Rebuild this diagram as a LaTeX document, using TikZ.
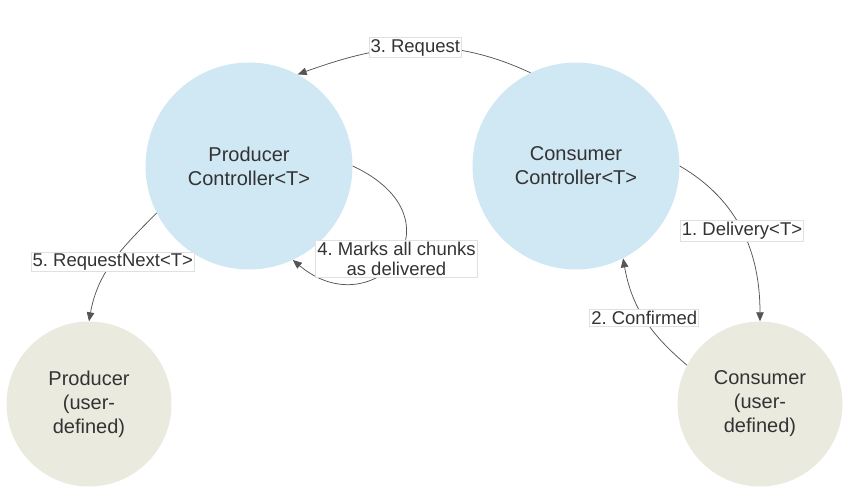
\documentclass[tikz,border=0pt]{standalone}
\usepackage{fontspec}
\setmainfont{Liberation Sans}
\usetikzlibrary{arrows.meta}
\definecolor{ctrlblue}{HTML}{D0E7F4}
\definecolor{userbeige}{HTML}{EAEADF}
\definecolor{txtgray}{HTML}{333333}
\definecolor{linegray}{HTML}{555555}
\frenchspacing

\begin{document}
\begin{tikzpicture}[x=1pt, y=1pt,
        ctrl/.style={circle, fill=ctrlblue, minimum size=207pt, inner sep=0pt,
            align=center, text=txtgray, font=\fontsize{20}{24}\selectfont},
        user/.style={circle, fill=userbeige, minimum size=165pt, inner sep=0pt,
            align=center, text=txtgray, font=\fontsize{20}{24}\selectfont},
        lbl/.style={fill=white, draw=black!12, inner sep=1.5pt, text=txtgray,
            align=center, font=\fontsize{18.5}{20}\selectfont},
        flow/.style={draw=linegray, line width=0.75pt,
            -{Triangle[length=9pt, width=7.5pt]}}]
    \useasboundingbox (0, 0) rectangle (853, 499);

    \node[ctrl] (prodctl) at (249, 333) {Producer\\Controller<T>};
    \node[ctrl] (consctl) at (576, 333) {Consumer\\Controller<T>};
    \node[user] (prod)    at (89, 95)   {Producer\\(user-\\defined)};
    \node[user] (cons)    at (760, 95)  {Consumer\\(user-\\defined)};

    \draw[flow] (consctl.0) to[out=-30, in=90] node[lbl] {1. Delivery<T>} (cons.north);
    \draw[flow] (cons.152) to[out=140, in=-80] node[lbl] {2. Confirmed} (consctl.-63);
    \draw[flow] (consctl.116) to[out=155, in=20] node[lbl] {3. Request} (prodctl.62);
    \draw[flow] (prodctl.0) to[out=-25, in=-40, out looseness=2.9, in looseness=2.45]
        node[lbl] {4. Marks all chunks\\as delivered} (prodctl.-65);
    \draw[flow] (prodctl.207) to[out=225, in=80] node[lbl] {5. RequestNext<T>} (prod.north);
\end{tikzpicture}
\end{document}
